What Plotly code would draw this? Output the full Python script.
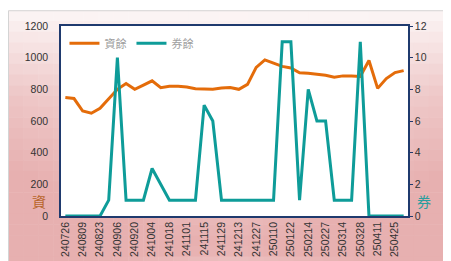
import plotly.graph_objects as go

dates = ["240726", "240802", "240809", "240816", "240823", "240830", "240906", "240913",
         "240920", "240927", "241004", "241011", "241018", "241025", "241101", "241108",
         "241115", "241122", "241129", "241206", "241213", "241220", "241227", "250103",
         "250110", "250117", "250122", "250207", "250214", "250221", "250227", "250307",
         "250314", "250321", "250328", "250402", "250411", "250418", "250425", "250502"]

margin_balance = [748, 742, 663, 649, 680, 738, 800, 837, 800, 827, 854, 810, 819, 819, 815, 804,
                  804, 800, 808, 812, 800, 831, 939, 986, 966, 945, 935, 904, 902, 897, 889, 877,
                  885, 885, 881, 982, 806, 868, 906, 918]

short_balance = [0, 0, 0, 0, 0, 1, 10, 1, 1, 1, 3, 2, 1, 1, 1, 1,
                 7, 6, 1, 1, 1, 1, 1, 1, 1, 11, 11, 1, 8, 6, 6, 1,
                 1, 1, 11, 0, 0, 0, 0, 0]

tick_labels = dates[::2]
name_margin = "資餘"
name_short = "券餘"

W, H = 451, 261
ML, MR, MT, MB = 53, 51, 16, 52
PW, PH = W - ML - MR, H - MT - MB

fig = go.Figure()
fig.add_trace(go.Scatter(x=dates, y=margin_balance, name=name_margin, mode="lines",
                         line=dict(color="#E46C0A", width=3)))
fig.add_trace(go.Scatter(x=dates, y=short_balance, name=name_short, mode="lines", yaxis="y2",
                         line=dict(color="#0E9C99", width=3)))

def px2u(px):
    return (px - ML) / PW

def py2v(py):
    return (H - MB - py) / PH

shapes = []
NC, NR = 30, 24
c0 = (252, 246, 246)
c1 = (231, 176, 176)
for i in range(NC):
    for j in range(NR):
        x0 = W * i / NC
        x1 = W * (i + 1) / NC + 0.5
        y0 = H * j / NR
        y1 = H * (j + 1) / NR + 0.5
        u = (i + 0.5) / NC
        v = (j + 0.5) / NR
        t = v * 1.05 + 0.35 * abs(2 * u - 1) * min(1.0, v * 3)
        if v > 0.92:
            t -= (v - 0.92) * 4
        t = max(0.0, min(1.0, t))
        col = tuple(int(round(a + (b - a) * t)) for a, b in zip(c0, c1))
        shapes.append(dict(type="rect", xref="paper", yref="paper", layer="below",
                           x0=px2u(x0), x1=px2u(x1), y0=py2v(y1), y1=py2v(y0),
                           fillcolor="rgb(%d,%d,%d)" % col, line=dict(width=0)))
shapes.append(dict(type="rect", xref="paper", yref="paper", layer="below",
                   x0=0, x1=1, y0=0, y1=1, fillcolor="white", line=dict(width=0)))
shapes.append(dict(type="rect", xref="paper", yref="paper", layer="above",
                   x0=px2u(0.5), x1=px2u(W - 1), y0=py2v(H - 2), y1=py2v(0.5),
                   fillcolor="rgba(0,0,0,0)", line=dict(color="#d4d4d4", width=1)))

axis_font = dict(family="Liberation Sans, Arial", size=10.5, color="#333333")

fig.update_layout(
    width=W, height=H,
    margin=dict(l=ML, r=MR, t=MT, b=MB, pad=0),
    paper_bgcolor="white", plot_bgcolor="white",
    showlegend=True,
    legend=dict(orientation="h", x=0.01, y=0.985, xanchor="left", yanchor="top",
                bgcolor="rgba(0,0,0,0)", font=dict(family="Noto Sans CJK TC", size=11, color="#a0a0a0"),
                itemwidth=30, tracegroupgap=0),
    xaxis=dict(type="category", tickmode="array", tickvals=tick_labels, ticktext=tick_labels,
               tickangle=-90, tickfont=axis_font, showline=True, linecolor="#1F3A6E", linewidth=1.5,
               mirror=True, showgrid=False, ticks="", range=[-0.5, len(dates) - 0.5]),
    yaxis=dict(range=[0, 1200], tickvals=[0, 200, 400, 600, 800, 1000, 1200], tickfont=axis_font,
               showline=True, linecolor="#1F3A6E", linewidth=1.5, showgrid=False, ticks="",
               zeroline=False, ticklabelstandoff=9),
    yaxis2=dict(range=[0, 12], tickvals=[0, 2, 4, 6, 8, 10, 12], tickfont=axis_font, overlaying="y",
                side="right", showline=True, linecolor="#1F3A6E", linewidth=1.5, showgrid=False,
                ticks="outside", ticklen=3, tickcolor="#1F3A6E", zeroline=False),
    shapes=shapes,
    annotations=[
        dict(text="資", xref="paper", yref="paper", x=px2u(22), y=py2v(206), showarrow=False,
             font=dict(family="Noto Sans CJK TC", size=14, color="#B8652A")),
        dict(text="券", xref="paper", yref="paper", x=px2u(425), y=py2v(206), showarrow=False,
             font=dict(family="Noto Sans CJK TC", size=14, color="#2A9E9E")),
    ],
)

fig.write_html("out.html")
